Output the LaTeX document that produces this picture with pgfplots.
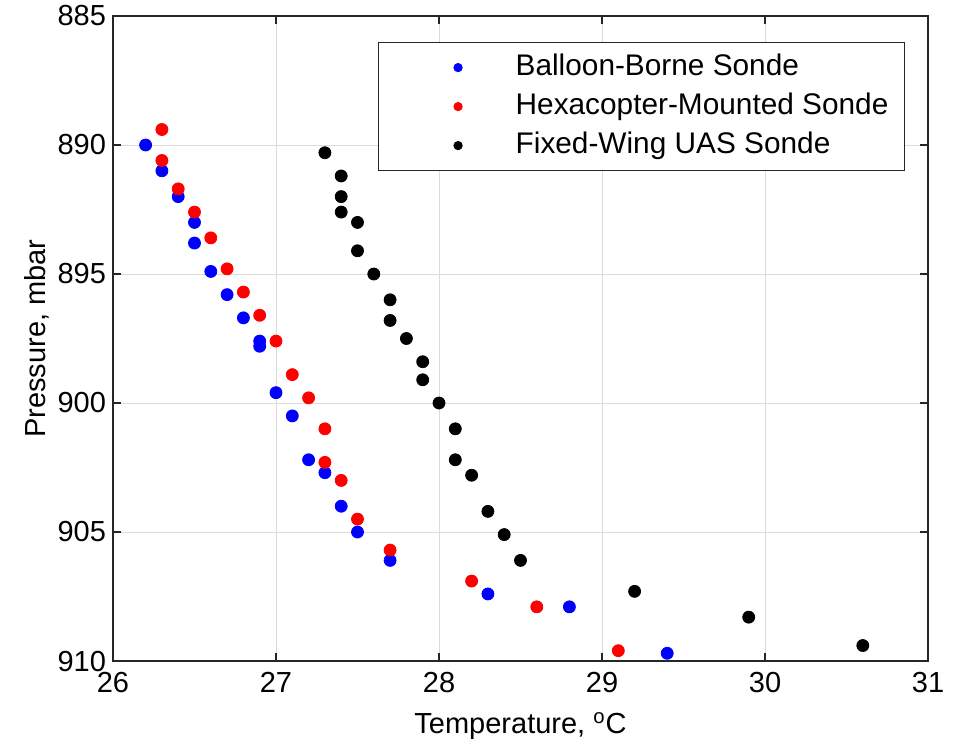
\documentclass[border=0pt]{standalone}
\usepackage{fontspec}
\setmainfont{Liberation Sans}
\usepackage{pgfplots}
\pgfplotsset{compat=1.18}

\newcommand{\chartfont}{\fontsize{14.5}{17}\selectfont}
\newcommand{\legendfont}{\fontsize{14.9}{17}\selectfont}

\begin{document}
\begin{tikzpicture}

\begin{axis}[
    width=407.5pt, height=322.5pt,
    scale only axis,
    xmin=26, xmax=31,
    ymin=885, ymax=910,
    y dir=reverse,
    xtick={26,27,...,31},
    ytick={885,890,...,910},
    /pgf/number format/assume math mode=true,
    tick label style={font=\chartfont},
    x tick label style={yshift=-2pt},
    xlabel={Temperature, \textsuperscript{o}C},
    ylabel={Pressure, mbar},
    label style={font=\chartfont},
    x label style={at={(axis description cs:0.5,-0.1008)}, anchor=center},
    y label style={at={(axis description cs:-0.0933,0.5)}, anchor=center},
    grid=major,
    grid style={black!14, line width=0.5pt},
    axis line style={draw=black!85, line width=0.6pt},
    tick style={draw=black!85, line width=0.6pt},
    tick align=inside,
    major tick length=4pt,
    legend cell align=left,
    legend image code/.code={%
        \path (-33.5pt,0pt) (26.5pt,0pt);
        \draw[#1, mark size=2pt] plot coordinates {(0pt,0pt)};
    },
    legend style={
        at={(0.9718,0.9597)}, anchor=north east,
        draw=black!85, line width=0.6pt,
        font=\legendfont,
        inner xsep=6pt, inner ysep=2.75pt,
        nodes={text height=11.5pt, text depth=4pt, inner ysep=2pt},
    },
]

% Balloon-borne sonde
\addplot[only marks, mark=*, mark size=3pt, color=blue] coordinates {
    (26.2,890.0) (26.3,891.0) (26.4,892.0) (26.5,893.0) (26.5,893.8)
    (26.6,894.9) (26.7,895.8) (26.8,896.7) (26.9,897.6) (26.9,897.8)
    (27.0,899.6) (27.1,900.5) (27.2,902.2) (27.3,902.7) (27.4,904.0)
    (27.5,905.0) (27.7,906.1) (28.3,907.4) (28.8,907.9) (29.4,909.7)
};
\addlegendentry{Balloon-Borne Sonde}

% Hexacopter-mounted sonde
\addplot[only marks, mark=*, mark size=3pt, color=red] coordinates {
    (26.3,889.4) (26.3,890.6) (26.4,891.7) (26.5,892.6) (26.6,893.6)
    (26.7,894.8) (26.8,895.7) (26.9,896.6) (27.0,897.6) (27.1,898.9)
    (27.2,899.8) (27.3,901.0) (27.3,902.3) (27.4,903.0) (27.5,904.5)
    (27.7,905.7) (28.2,906.9) (28.6,907.9) (29.1,909.6)
};
\addlegendentry{Hexacopter-Mounted Sonde}

% Fixed-wing UAS sonde
\addplot[only marks, mark=*, mark size=3pt, color=black] coordinates {
    (27.3,890.3) (27.4,891.2) (27.4,892.0) (27.4,892.6) (27.5,893.0)
    (27.5,894.1) (27.6,895.0) (27.7,896.0) (27.7,896.8) (27.8,897.5)
    (27.9,898.4) (27.9,899.1) (28.0,900.0) (28.1,901.0) (28.1,902.2)
    (28.2,902.8) (28.3,904.2) (28.4,905.1) (28.5,906.1) (29.2,907.3)
    (29.9,908.3) (30.6,909.4)
};
\addlegendentry{Fixed-Wing UAS Sonde}

\coordinate (bl) at (axis description cs:0,0);
\coordinate (tr) at (axis description cs:1,1);
\end{axis}

\pgfresetboundingbox
\path ([shift={(-56.5pt,-43.5pt)}]bl) rectangle ([shift={(12.5pt,8pt)}]tr);

\end{tikzpicture}
\end{document}
